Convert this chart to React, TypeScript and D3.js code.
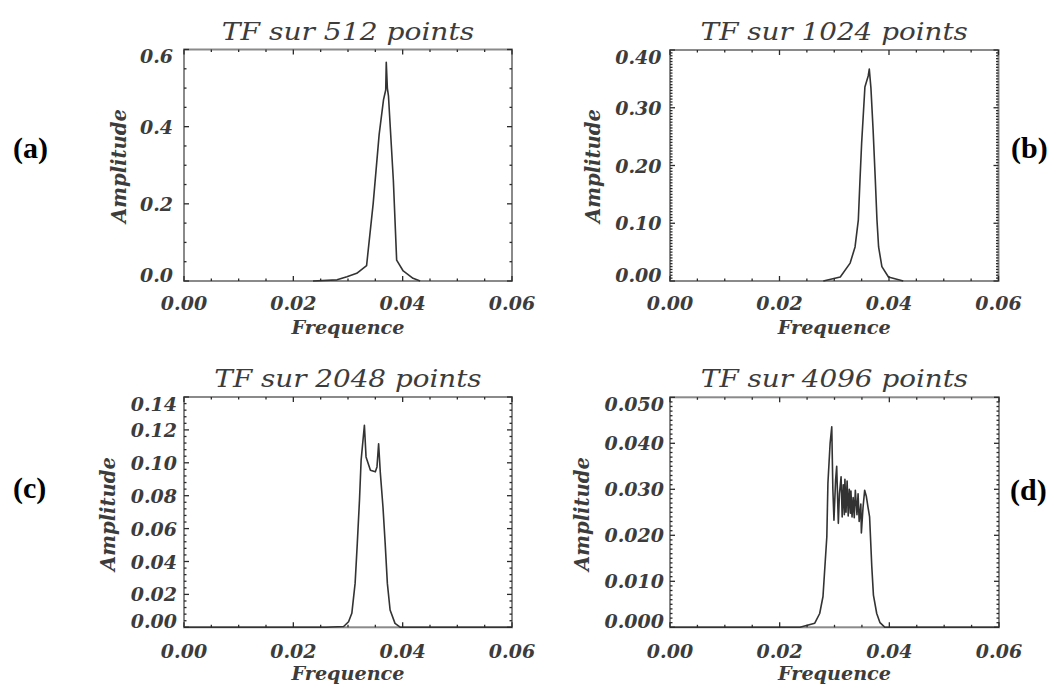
import React from "react";
import * as d3 from "d3";

// ---------- data ----------
const panelTitles = ["TF sur 512 points", "TF sur 1024 points", "TF sur 2048 points", "TF sur 4096 points"];
const panelLetters = ["(a)", "(b)", "(c)", "(d)"];
const xAxisTitle = "Frequence";
const yAxisTitle = "Amplitude";

const xTickValues = [0, 0.02, 0.04, 0.06];
const xTickLabels = ["0.00", "0.02", "0.04", "0.06"];
const xDomain = [0, 0.06];
const xMinorStep = 0.005;

const yTicksA = [0, 0.2, 0.4, 0.6];
const yLabelsA = ["0.0", "0.2", "0.4", "0.6"];
const yTicksB = [0, 0.1, 0.2, 0.3, 0.4];
const yLabelsB = ["0.00", "0.10", "0.20", "0.30", "0.40"];
const yTicksC = [0, 0.02, 0.04, 0.06, 0.08, 0.1, 0.12, 0.14];
const yLabelsC = ["0.00", "0.02", "0.04", "0.06", "0.08", "0.10", "0.12", "0.14"];
const yTicksD = [0, 0.01, 0.02, 0.03, 0.04, 0.05];
const yLabelsD = ["0.000", "0.010", "0.020", "0.030", "0.040", "0.050"];
const yMaxes = [0.6, 0.4, 0.14, 0.05];
const yMinorSteps = [0.05, 0.005, 0.004, 0.001];

// [frequency, amplitude]
const seriesA: [number, number][] = [
  [0.0236, 0], [0.0280, 0.003], [0.0298, 0.011], [0.0316, 0.020], [0.0334, 0.040],
  [0.0346, 0.200], [0.0357, 0.380], [0.0365, 0.470], [0.0369, 0.495], [0.0370, 0.567],
  [0.0372, 0.500], [0.0374, 0.480], [0.0383, 0.260], [0.0389, 0.054], [0.0401, 0.026],
  [0.0419, 0.007], [0.0432, 0],
];
const seriesB: [number, number][] = [
  [0.0280, 0], [0.0311, 0.007], [0.0329, 0.031], [0.0338, 0.059], [0.0344, 0.106],
  [0.0347, 0.175], [0.0350, 0.238], [0.0356, 0.336], [0.0362, 0.355], [0.0364, 0.367],
  [0.0367, 0.334], [0.0371, 0.261], [0.0375, 0.175], [0.0378, 0.106], [0.0381, 0.059],
  [0.0387, 0.025], [0.0399, 0.007], [0.0426, 0],
];
const seriesC: [number, number][] = [
  [0, 0], [0.0260, 0], [0.0292, 0.0005], [0.0301, 0.0034], [0.0307, 0.0085],
  [0.0313, 0.0267], [0.0317, 0.051], [0.0321, 0.0773], [0.0324, 0.1016], [0.0330, 0.1228],
  [0.0333, 0.1036], [0.0341, 0.0955], [0.0350, 0.0945], [0.0353, 0.0975], [0.0356, 0.1116],
  [0.0359, 0.0945], [0.0364, 0.073], [0.0368, 0.051], [0.0372, 0.0267], [0.0377, 0.0105],
  [0.0386, 0.0024], [0.0396, 0], [0.06, 0],
];
const seriesD: [number, number][] = [
  [0, 0], [0.0237, 0], [0.0264, 0.0009], [0.0273, 0.003], [0.0279, 0.0067],
  [0.0286, 0.0197], [0.0288, 0.0313], [0.0292, 0.040], [0.0295, 0.0436], [0.0297, 0.030],
  [0.0299, 0.0233], [0.0302, 0.032], [0.0304, 0.035], [0.0307, 0.0226], [0.0309, 0.029],
  [0.0312, 0.0327], [0.0314, 0.024], [0.0316, 0.031], [0.0318, 0.0245], [0.0319, 0.0322],
  [0.0321, 0.025], [0.0323, 0.0318], [0.0325, 0.0242], [0.0327, 0.030], [0.0329, 0.0248],
  [0.0330, 0.0296], [0.0332, 0.024], [0.0334, 0.0282], [0.0336, 0.0238], [0.0338, 0.0298],
  [0.0341, 0.0245], [0.0343, 0.029], [0.0345, 0.023], [0.0348, 0.0268], [0.0349, 0.0205],
  [0.0352, 0.026], [0.0355, 0.0298], [0.0358, 0.0285], [0.0361, 0.0262], [0.0364, 0.024],
  [0.0368, 0.0132], [0.0371, 0.007], [0.0377, 0.003], [0.0383, 0.001], [0.0392, 0], [0.06, 0],
];

const allSeries = [seriesA, seriesB, seriesC, seriesD];
const allYTicks = [yTicksA, yTicksB, yTicksC, yTicksD];
const allYLabels = [yLabelsA, yLabelsB, yLabelsC, yLabelsD];

// ---------- layout ----------
const layouts = [
  { x0: 184, x1: 512, y0: 49.5, y1: 281, yLabRight: 173, ampX: 119, ampY: 166, titleY: 40, xLabY: 309.5, freqY: 334, letX: 13, letY: 157.5 },
  { x0: 670, x1: 998.5, y0: 50, y1: 281, yLabRight: 661.5, ampX: 593, ampY: 166, titleY: 40, xLabY: 309.5, freqY: 334, letX: 1011, letY: 157.5 },
  { x0: 184, x1: 512, y0: 397, y1: 627.3, yLabRight: 177, ampX: 107.5, ampY: 514, titleY: 386.5, xLabY: 658, freqY: 680, letX: 13, letY: 497.5 },
  { x0: 670, x1: 999, y0: 397.3, y1: 627.3, yLabRight: 664, ampX: 581.7, ampY: 514, titleY: 386.5, xLabY: 658, freqY: 680, letX: 1010, letY: 499.5 },
];

const FONT = "'DejaVu Serif', serif";
const TEXT_COLOR = "#3c3c3c";
const FRAME_COLOR = "#8a8a8a";

function Panel({ i }: { i: number }) {
  const L = layouts[i];
  const x = d3.scaleLinear().domain(xDomain).range([L.x0, L.x1]);
  const y = d3.scaleLinear().domain([0, yMaxes[i]]).range([L.y1, L.y0]);
  const line = d3
    .line<[number, number]>()
    .x((d) => x(d[0]))
    .y((d) => y(d[1]));

  const xMinor = d3.range(0, 0.06 + 1e-9, xMinorStep);
  const yMinor = d3.range(0, yMaxes[i] + 1e-9, yMinorSteps[i]);
  const isMajor = (v: number, arr: number[]) => arr.some((t) => Math.abs(t - v) < 1e-9);

  const ticks: JSX.Element[] = [];
  xMinor.forEach((v, k) => {
    const len = isMajor(v, xTickValues) ? 5 : 2.5;
    const px = x(v);
    ticks.push(<line key={`xb${k}`} x1={px} x2={px} y1={L.y1} y2={L.y1 - len} />);
    ticks.push(<line key={`xt${k}`} x1={px} x2={px} y1={L.y0} y2={L.y0 + len} />);
  });
  yMinor.forEach((v, k) => {
    const len = isMajor(v, allYTicks[i]) ? 5 : 2.5;
    const py = y(v);
    ticks.push(<line key={`yl${k}`} x1={L.x0} x2={L.x0 + len} y1={py} y2={py} />);
    ticks.push(<line key={`yr${k}`} x1={L.x1} x2={L.x1 - len} y1={py} y2={py} />);
  });

  const clampY = (v: number) => Math.max(L.y0 + 6.5, Math.min(L.y1 - 6.5, v));

  return (
    <g>
      <rect x={L.x0} y={L.y0} width={L.x1 - L.x0} height={L.y1 - L.y0} fill="none" stroke={FRAME_COLOR} strokeWidth={2} />
      <path d={line(allSeries[i]) || ""} fill="none" stroke="#333" strokeWidth={1.6} strokeLinejoin="round" />
      <g stroke="#2a2a2a" strokeWidth={1.3}>{ticks}</g>
      <text
        x={(L.x0 + L.x1) / 2}
        y={L.titleY}
        textAnchor="middle"
        fontFamily={FONT}
        fontStyle="italic"
        fontSize={24}
        fill={TEXT_COLOR}
        textLength={panelTitles[i].length * 14.85}
        lengthAdjust="spacingAndGlyphs"
      >
        {panelTitles[i]}
      </text>
      {xTickValues.map((v, k) => (
        <text key={`xl${k}`} x={x(v)} y={L.xLabY} textAnchor="middle" fontFamily={FONT} fontStyle="italic" fontWeight="bold" fontSize={19} fill={TEXT_COLOR}>
          {xTickLabels[k]}
        </text>
      ))}
      {allYTicks[i].map((v, k) => (
        <text key={`yl${k}`} x={L.yLabRight} y={clampY(y(v))} textAnchor="end" dominantBaseline="central" fontFamily={FONT} fontStyle="italic" fontWeight="bold" fontSize={19} fill={TEXT_COLOR}>
          {allYLabels[i][k]}
        </text>
      ))}
      <text x={(L.x0 + L.x1) / 2} y={L.freqY} textAnchor="middle" fontFamily={FONT} fontStyle="italic" fontWeight="bold" fontSize={19} fill={TEXT_COLOR} textLength={113} lengthAdjust="spacingAndGlyphs">
        {xAxisTitle}
      </text>
      <text
        transform={`translate(${L.ampX},${L.ampY}) rotate(-90)`}
        textAnchor="middle"
        dominantBaseline="central"
        fontFamily={FONT}
        fontStyle="italic"
        fontWeight="bold"
        fontSize={20}
        fill={TEXT_COLOR}
        textLength={114}
        lengthAdjust="spacingAndGlyphs"
      >
        {yAxisTitle}
      </text>
      <text x={L.letX} y={L.letY} fontFamily="'Liberation Serif', 'Times New Roman', serif" fontWeight="bold" fontSize={30} fill="#000">
        {panelLetters[i]}
      </text>
    </g>
  );
}

export default function App() {
  return (
    <svg width={1055} height={686} style={{ position: "absolute", left: 0, top: 0, background: "#fff" }}>
      <rect x={0} y={0} width={1055} height={686} fill="#fff" />
      {[0, 1, 2, 3].map((i) => (
        <Panel key={i} i={i} />
      ))}
    </svg>
  );
}
